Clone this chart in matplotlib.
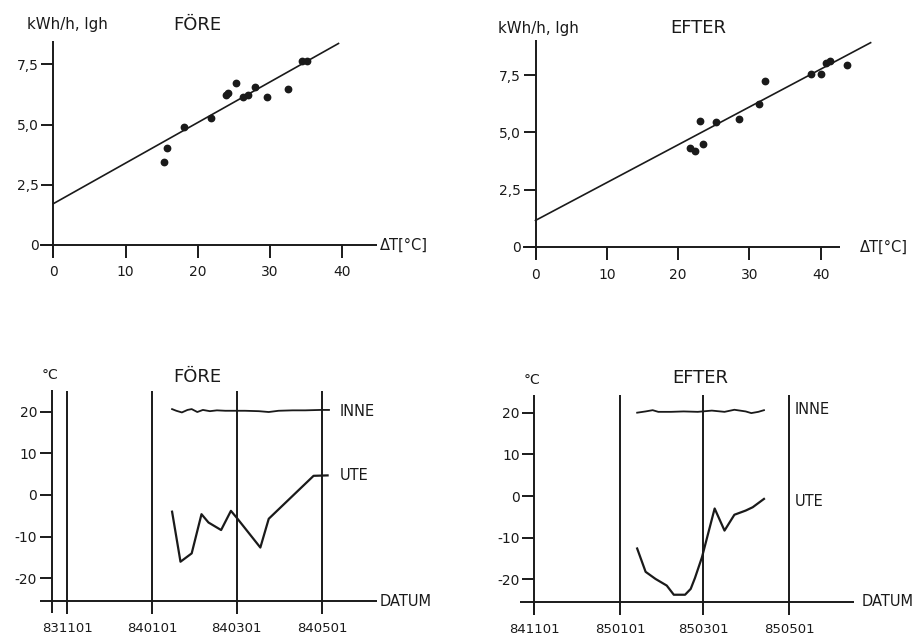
import matplotlib
matplotlib.use("Agg")
import matplotlib.pyplot as plt
import matplotlib.dates as mdates
import numpy as np

# ---------------- data ----------------
# FÖRE: energy vs temperature difference
fore_dt = [15.3, 15.7, 18.1, 21.8, 23.9, 24.2, 25.3, 26.3, 26.9, 28.0, 29.6, 32.5, 34.5, 35.2]
fore_kwh = [3.43, 4.04, 4.90, 5.26, 6.22, 6.33, 6.71, 6.14, 6.21, 6.56, 6.15, 6.47, 7.65, 7.66]
fore_fit = [1.70, 0.169]      # intercept, slope
fore_fit_range = [0, 39.5]

# EFTER
efter_dt = [21.6, 22.4, 23.1, 23.5, 25.3, 28.6, 31.3, 32.2, 38.6, 40.0, 40.7, 41.3, 43.7]
efter_kwh = [4.31, 4.21, 5.52, 4.48, 5.46, 5.58, 6.26, 7.26, 7.55, 7.55, 8.05, 8.12, 7.93]
efter_fit = [1.15, 0.1655]
efter_fit_range = [0, 47.0]

kwh_ticks = [0, 2.5, 5.0, 7.5]
kwh_ticklabels = ["0", "2,5", "5,0", "7,5"]
dt_ticks = [0, 10, 20, 30, 40]

# temperatures, FÖRE period
fore_inne_dates = ["1984-01-15", "1984-01-18", "1984-01-22", "1984-01-26", "1984-01-29",
                   "1984-02-02", "1984-02-06", "1984-02-11", "1984-02-16", "1984-02-22",
                   "1984-02-29", "1984-03-07", "1984-03-17", "1984-03-24", "1984-03-31",
                   "1984-04-10", "1984-04-19", "1984-04-30", "1984-05-06"]
fore_inne = [20.6, 20.2, 19.8, 20.4, 20.6, 19.9, 20.4, 20.1, 20.3, 20.2,
             20.2, 20.2, 20.1, 19.9, 20.2, 20.3, 20.3, 20.4, 20.4]
fore_ute_dates = ["1984-01-15", "1984-01-21", "1984-01-29", "1984-02-05", "1984-02-10",
                  "1984-02-19", "1984-02-26", "1984-03-01", "1984-03-18", "1984-03-24",
                  "1984-04-25", "1984-05-05"]
fore_ute = [-4.0, -16.0, -14.0, -4.6, -6.6, -8.4, -3.8, -5.4, -12.6, -5.7, 4.6, 4.7]

# temperatures, EFTER period
efter_inne_dates = ["1985-01-13", "1985-01-19", "1985-01-24", "1985-01-28", "1985-02-06",
                    "1985-02-15", "1985-02-25", "1985-03-07", "1985-03-16", "1985-03-23",
                    "1985-03-31", "1985-04-04", "1985-04-09", "1985-04-13"]
efter_inne = [20.0, 20.3, 20.6, 20.2, 20.2, 20.3, 20.2, 20.5, 20.2, 20.7, 20.3, 19.9, 20.2, 20.6]
efter_ute_dates = ["1985-01-13", "1985-01-19", "1985-01-26", "1985-02-03", "1985-02-08",
                   "1985-02-16", "1985-02-20", "1985-02-23", "1985-02-28", "1985-03-09",
                   "1985-03-16", "1985-03-23", "1985-03-31", "1985-04-05", "1985-04-13"]
efter_ute = [-12.6, -18.2, -19.9, -21.5, -23.7, -23.7, -22.3, -19.7, -14.7, -3.0,
             -8.3, -4.5, -3.5, -2.7, -0.7]

temp_ticks = [-20, -10, 0, 10, 20]
temp_ticklabels = ["-20", "-10", "0", "10", "20"]
fore_month_ticks = ["1983-11-01", "1984-01-01", "1984-03-01", "1984-05-01"]
fore_month_labels = ["831101", "840101", "840301", "840501"]
efter_month_ticks = ["1984-11-01", "1985-01-01", "1985-03-01", "1985-05-01"]
efter_month_labels = ["841101", "850101", "850301", "850501"]

# ---------------- layout ----------------
W, H = 917, 636
INK = "#1a1a1a"
LW = 1.4
plt.rcParams["font.family"] = ["DejaVu Sans"]

fig = plt.figure(figsize=(W / 100, H / 100), dpi=100)


def dnum(s):
    return mdates.date2num(np.datetime64(s))


def make_axes(x_ref, x_px, x_scale, xlim, y_ref, y_px, y_scale, ylim):
    left = x_px + (xlim[0] - x_ref) * x_scale
    right = x_px + (xlim[1] - x_ref) * x_scale
    top = y_px - (ylim[1] - y_ref) * y_scale
    bottom = y_px - (ylim[0] - y_ref) * y_scale
    ax = fig.add_axes([left / W, 1 - bottom / H, (right - left) / W, (bottom - top) / H])
    ax.set_xlim(xlim)
    ax.set_ylim(ylim)
    ax.patch.set_alpha(0)
    return ax


def style(ax, x0, y0, xb, yb, xsize=10):
    for s in ("top", "right"):
        ax.spines[s].set_visible(False)
    ax.spines["left"].set_position(("data", x0))
    ax.spines["bottom"].set_position(("data", y0))
    ax.spines["left"].set_bounds(*yb)
    ax.spines["bottom"].set_bounds(*xb)
    for s in ("left", "bottom"):
        ax.spines[s].set_linewidth(LW)
        ax.spines[s].set_color(INK)
        ax.spines[s].set_capstyle("butt")
    ax.tick_params(axis="y", direction="out", length=9, width=LW, color=INK,
                   labelsize=10, pad=1.5, labelcolor=INK)
    ax.tick_params(axis="x", direction="out", length=9, width=LW, color=INK,
                   labelsize=xsize, pad=6, labelcolor=INK)


def ptext(x, y, s, size=10, ha="left"):
    fig.text(x / W, 1 - y / H, s, fontsize=size, ha=ha, va="center", color=INK)


# ---- top left: FÖRE scatter ----
ax1 = make_axes(0, 53.3, 7.22, (-4, 48), 0, 244.5, 24.0, (-1.2, 9.0))
style(ax1, 0, 0, (-1.85, 44.9), (-0.53, 8.47))
ax1.plot(fore_dt, fore_kwh, "o", color=INK, markersize=4.6)
xf = np.array(fore_fit_range)
ax1.plot(xf, fore_fit[0] + fore_fit[1] * xf, color=INK, lw=1.2)
ax1.set_xticks(dt_ticks)
ax1.set_yticks(kwh_ticks)
ax1.set_yticklabels(kwh_ticklabels)
ptext(27, 25, "kWh/h, lgh", 10.8)
ptext(197, 25, "FÖRE", 13, "center")
ptext(380, 245, "ΔT[°C]", 10.5)

# ---- top right: EFTER scatter ----
ax2 = make_axes(0, 535.5, 7.13, (-4, 49), 0, 246.7, 22.85, (-1.2, 9.4))
style(ax2, 0, 0, (-1.78, 42.7), (-0.55, 9.05))
ax2.plot(efter_dt, efter_kwh, "o", color=INK, markersize=4.6)
xe = np.array(efter_fit_range)
ax2.plot(xe, efter_fit[0] + efter_fit[1] * xe, color=INK, lw=1.2)
ax2.set_xticks(dt_ticks)
ax2.set_yticks(kwh_ticks)
ax2.set_yticklabels(kwh_ticklabels)
ptext(498, 28, "kWh/h, lgh", 10.8)
ptext(698, 28, "EFTER", 13, "center")
ptext(860, 247, "ΔT[°C]", 10.5)

# ---- bottom left: FÖRE temperatures ----
ref3 = dnum("1983-11-01")
ax3 = make_axes(ref3, 67.0, 1.401, (ref3 - 30, ref3 + 245), 0, 495, 4.17, (-31, 27))
style(ax3, dnum("1983-10-21"), -25.4, (dnum("1983-10-13"), dnum("1984-06-09")),
      (-28.3, 25.2), xsize=9.5)
ax3.vlines([dnum(d) for d in fore_month_ticks], -25.4, 24.9, color=INK, lw=LW)
ax3.plot(np.array(fore_inne_dates, dtype="datetime64[D]"), fore_inne, color=INK, lw=1.3)
ax3.plot(np.array(fore_ute_dates, dtype="datetime64[D]"), fore_ute, color=INK, lw=1.6)
ax3.set_xlim(ref3 - 30, ref3 + 245)
ax3.set_xticks([dnum(d) for d in fore_month_ticks])
ax3.set_xticklabels(fore_month_labels)
ax3.set_yticks(temp_ticks)
ax3.set_yticklabels(temp_ticklabels)
ptext(50, 375, "°C", 10, "center")
ptext(197, 377, "FÖRE", 13, "center")
ptext(340, 411, "INNE", 10.5)
ptext(340, 475, "UTE", 10.5)
ptext(380, 601, "DATUM", 10.5)

# ---- bottom right: EFTER temperatures ----
ref4 = dnum("1984-11-01")
ax4 = make_axes(ref4, 534.3, 1.409, (ref4 - 20, ref4 + 245), 0, 496, 4.166, (-31, 27))
style(ax4, ref4, -25.5, (dnum("1984-10-22"), dnum("1985-06-16")), (-28.5, 24.3),
      xsize=9.5)
ax4.vlines([dnum(d) for d in efter_month_ticks[1:]], -25.5, 24.3, color=INK, lw=LW)
ax4.plot(np.array(efter_inne_dates, dtype="datetime64[D]"), efter_inne, color=INK, lw=1.3)
ax4.plot(np.array(efter_ute_dates, dtype="datetime64[D]"), efter_ute, color=INK, lw=1.6)
ax4.set_xlim(ref4 - 20, ref4 + 245)
ax4.set_xticks([dnum(d) for d in efter_month_ticks])
ax4.set_xticklabels(efter_month_labels)
ax4.set_yticks(temp_ticks)
ax4.set_yticklabels(temp_ticklabels)
ptext(532, 380, "°C", 10, "center")
ptext(700, 378, "EFTER", 13, "center")
ptext(795, 410, "INNE", 10.5)
ptext(795, 501, "UTE", 10.5)
ptext(862, 602, "DATUM", 10.5)

fig.savefig("out.png", dpi=100, facecolor="white")
